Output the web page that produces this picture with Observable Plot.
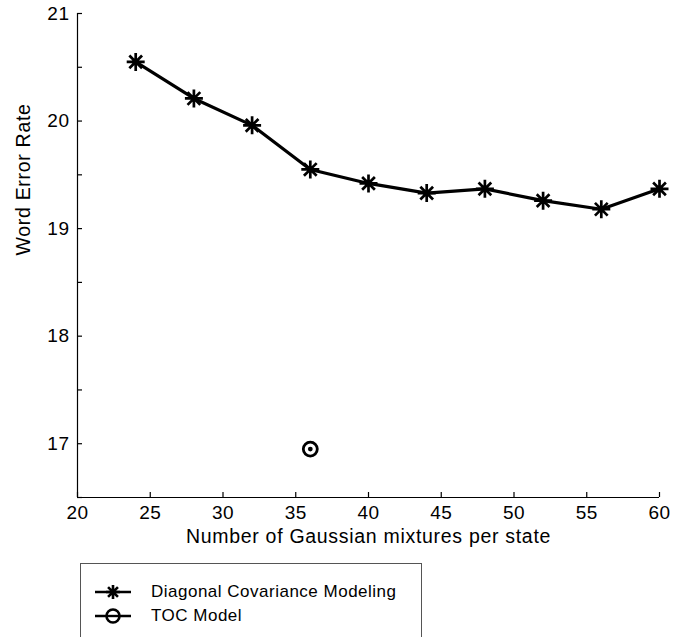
<!DOCTYPE html>
<html><head><meta charset="utf-8">
<script src="https://cdn.jsdelivr.net/npm/d3@7"></script>
<script src="https://cdn.jsdelivr.net/npm/@observablehq/plot@0.6"></script>
<style>
body{margin:0;background:#fff;font-family:"Liberation Sans",Arial,sans-serif;position:relative;width:683px;height:637px;overflow:hidden}
#legend{position:absolute;left:80px;top:563px;width:342px;height:110px;border:1px solid #555;box-sizing:border-box}
.row{position:absolute;left:0;height:22px;display:flex;align-items:center}
.row svg{margin-left:13px}
.row span{position:absolute;left:70px;font-size:17px;letter-spacing:0.5px;white-space:nowrap;color:#000}
</style>
</head><body><div id="chart"></div><div id="legend"></div>
<script>
const mixtures = [24, 28, 32, 36, 40, 44, 48, 52, 56, 60];
const diagonalWER = [20.55, 20.21, 19.96, 19.55, 19.42, 19.33, 19.37, 19.26, 19.18, 19.37];
const tocMixtures = [36];
const tocWER = [16.95];
const xTicks = [20, 25, 30, 35, 40, 45, 50, 55, 60];
const yTickLabels = [17, 18, 19, 20, 21];
const yTickMarks = [16.5, 17, 17.5, 18, 18.5, 19, 19.5, 20, 20.5, 21];
const seriesNames = ["Diagonal Covariance Modeling", "TOC Model"];
const xLabel = "Number of Gaussian mixtures per state";
const yLabel = "Word Error Rate";

const diag = mixtures.map((m, i) => ({m, wer: diagonalWER[i]}));
const toc = tocMixtures.map((m, i) => ({m, wer: tocWER[i]}));

const asterisk = {
  draw(ctx, size) {
    const r = Math.sqrt(size / Math.PI);
    const d = r * Math.SQRT1_2;
    ctx.moveTo(-r, 0); ctx.lineTo(r, 0);
    ctx.moveTo(0, -r); ctx.lineTo(0, r);
    ctx.moveTo(-d, -d); ctx.lineTo(d, d);
    ctx.moveTo(-d, d); ctx.lineTo(d, -d);
  }
};

const chart = Plot.plot({
  width: 683,
  height: 555,
  marginLeft: 77,
  marginRight: 24,
  marginTop: 13,
  marginBottom: 58,
  style: {fontFamily: "Liberation Sans, Arial, sans-serif", background: "#fff", color: "#000"},
  x: {domain: [20, 60]},
  y: {domain: [16.5, 21]},
  marks: [
    Plot.ruleX([20], {stroke: "#000", strokeWidth: 1.2}),
    Plot.ruleY([16.5], {stroke: "#000", strokeWidth: 1.2}),
    Plot.axisY(yTickMarks, {tickSize: 5, insetLeft: 5, fill: "none", tickFormat: () => "", label: null, stroke: "#000", strokeWidth: 1.2}),
    Plot.axisY(yTickLabels, {tickSize: 0, tickPadding: 8, fontSize: 19, label: null, tickFormat: d => String(d)}),
    Plot.axisX(xTicks, {tickSize: 5, insetBottom: 5, fill: "none", tickFormat: () => "", label: null, stroke: "#000", strokeWidth: 1.2}),
    Plot.axisX(xTicks, {tickSize: 0, tickPadding: 8, fontSize: 19, label: null, tickFormat: d => String(d)}),
    Plot.text([xLabel], {frameAnchor: "bottom", dy: 45, fontSize: 19.5, fill: "#000", text: d => d}),
    Plot.text([yLabel], {frameAnchor: "left", dx: -54, rotate: -90, fontSize: 19.5, fill: "#000", text: d => d}),
    Plot.line(diag, {x: "m", y: "wer", stroke: "#000", strokeWidth: 3.2}),
    Plot.dot(diag, {x: "m", y: "wer", symbol: asterisk, r: 9, stroke: "#000", strokeWidth: 2.7, fill: "none"}),
    Plot.dot(toc, {x: "m", y: "wer", r: 7, stroke: "#000", strokeWidth: 2.8, fill: "none"}),
    Plot.dot(toc, {x: "m", y: "wer", r: 2.4, fill: "#000", stroke: "none"})
  ]
});
chart.querySelectorAll('g[aria-label="y-axis tick label"] text, g[aria-label="x-axis tick label"] text').forEach(t => {
  t.style.letterSpacing = "0.5px";
});
chart.querySelectorAll('g[aria-label="text"] text').forEach(t => {
  t.style.letterSpacing = "0.7px";
});
document.getElementById("chart").appendChild(chart);

// legend
const legend = document.getElementById("legend");
const rowTops = [17, 41];
seriesNames.forEach((name, i) => {
  const row = document.createElement("div");
  row.className = "row";
  row.style.top = rowTops[i] + "px";
  const svg = d3.create("svg").attr("width", 40).attr("height", 22);
  svg.append("line").attr("x1", 1).attr("x2", 37).attr("y1", 11).attr("y2", 11).attr("stroke", "#000").attr("stroke-width", 2.4);
  if (i === 0) {
    const r = 7, d = r * Math.SQRT1_2;
    const p = `M${19 - r},11H${19 + r}M19,${11 - r}V${11 + r}M${19 - d},${11 - d}L${19 + d},${11 + d}M${19 - d},${11 + d}L${19 + d},${11 - d}`;
    svg.append("path").attr("d", p).attr("stroke", "#000").attr("stroke-width", 2.6).attr("fill", "none");
  } else {
    svg.append("circle").attr("cx", 19).attr("cy", 11).attr("r", 6.5).attr("stroke", "#000").attr("stroke-width", 2.6).attr("fill", "#fff");
    svg.append("line").attr("x1", 13).attr("x2", 25).attr("y1", 11).attr("y2", 11).attr("stroke", "#000").attr("stroke-width", 2.4);
  }
  row.appendChild(svg.node());
  const span = document.createElement("span");
  span.textContent = name;
  row.appendChild(span);
  legend.appendChild(row);
});
</script>
</body></html>
